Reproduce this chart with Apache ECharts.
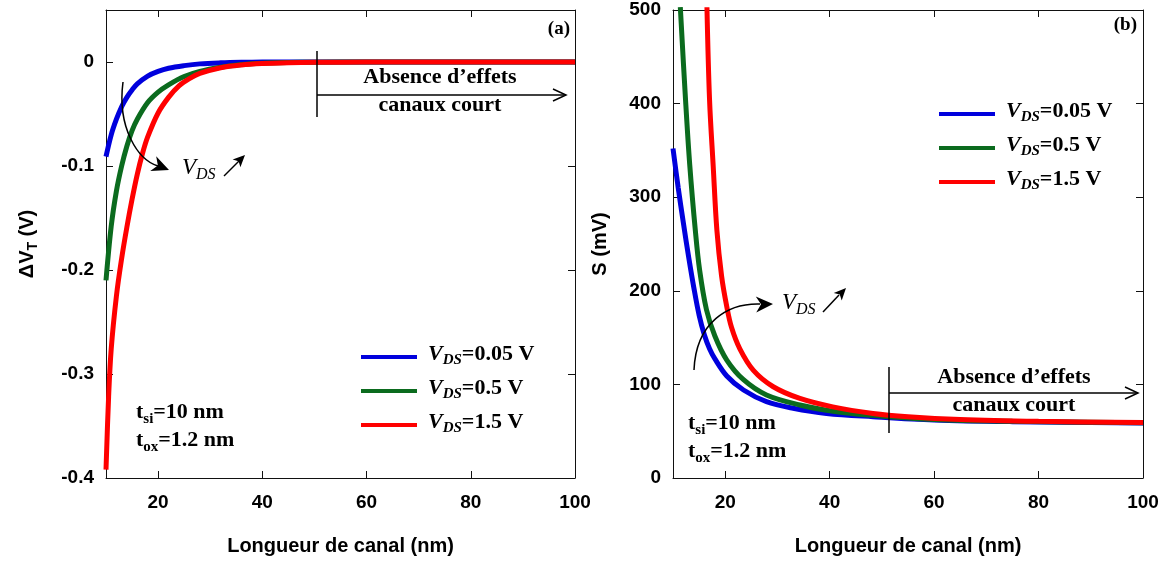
<!DOCTYPE html>
<html><head><meta charset="utf-8">
<script src="https://cdn.jsdelivr.net/npm/echarts@6/dist/echarts.min.js"></script>
<style>html,body{margin:0;padding:0;background:#fff}#c{width:1168px;height:565px}</style>
</head><body><div id="c"></div>
<script>
// ---------- data ----------
const seriesNames = ['VDS=0.05 V', 'VDS=0.5 V', 'VDS=1.5 V'];
const legendValues = ['0.05', '0.5', '1.5'];
const colors = ['#0000dd', '#0b6b1e', '#ff0000'];
const xTicks = [20, 40, 60, 80, 100];
const xTopTicks = [20, 40, 60, 80];
const dvtTicks = [-0.4, -0.3, -0.2, -0.1, 0];
const sTicks = [0, 100, 200, 300, 400, 500];

// Panel (a): threshold-voltage shift dVT (V) vs channel length L (nm)
const dvtBlue = [[10,-0.091],[11,-0.070],[12,-0.055],[13,-0.043],[14,-0.034],[15,-0.027],[16,-0.021],[18,-0.0135],[20,-0.009],[22,-0.006],[25,-0.0035],[28,-0.0018],[32,-0.0008],[36,-0.0003],[40,-0.0001],[50,0],[60,0],[70,0],[80,0],[90,0],[100,0]];
const dvtGreen = [[10,-0.21],[11,-0.158],[12,-0.124],[13,-0.100],[14,-0.081],[15,-0.066],[16,-0.055],[18,-0.039],[20,-0.029],[22,-0.022],[25,-0.014],[28,-0.009],[32,-0.005],[36,-0.0025],[40,-0.0012],[45,-0.0005],[50,-0.0002],[60,0],[70,0],[80,0],[90,0],[100,0]];
const dvtRed = [[10,-0.392],[10.5,-0.322],[11,-0.276],[12,-0.225],[13,-0.189],[14,-0.159],[15,-0.132],[16,-0.108],[17,-0.088],[18,-0.072],[20,-0.049],[22,-0.034],[24,-0.023],[26,-0.016],[28,-0.011],[32,-0.0055],[36,-0.0028],[40,-0.0015],[45,-0.0007],[50,-0.0003],[60,-0.0001],[70,0],[80,0],[90,0],[100,0]];

// Panel (b): subthreshold swing S (mV) vs channel length L (nm)
const sBlue = [[10,352],[11,310],[12,272],[13,236],[14,203],[15,174],[16,153],[17,138],[18,127.5],[20.3,109],[23.5,94],[27.9,81.5],[33,74.5],[39.4,69],[48.3,65.5],[60,62],[75,60.2],[100,58.8]];
const sGreen = [[11.4,503],[12.4,404],[13.2,335],[14.3,263],[15.1,222],[16.4,180],[18.0,152],[20.3,126],[23.5,105],[27.9,88.7],[34.3,78],[41.3,70.8],[48.3,67],[60,62.5],[75,60.5],[100,59]];
const sRed = [[16.5,503],[17.0,404],[17.7,333],[18.4,265],[19.3,216],[20.3,183],[21.2,161],[22.8,138],[25.4,115],[29.2,97.5],[34.3,85],[40.6,76],[48.3,69],[55,65.5],[65,62.5],[80,60.5],[100,59.2]];

// ---------- styles ----------
const SANS = '"Liberation Sans", Arial, sans-serif';
const SERIF = '"Liberation Serif", "Times New Roman", serif';
const axisLineStyle = { onZero: false, lineStyle: { color: '#111', width: 1 } };
const labelStyle = { fontFamily: SANS, fontWeight: 'bold', fontSize: 19, color: '#000' };
const nameStyle = { fontFamily: SANS, fontWeight: 'bold', fontSize: 20, color: '#000' };

function xAxes(grid) {
  return [
    { gridIndex: grid, type: 'value', min: 10, max: 100, position: 'bottom',
      axisLine: axisLineStyle, splitLine: { show: false },
      axisTick: { inside: true, length: 7, customValues: xTicks, lineStyle: { color: '#111' } },
      axisLabel: Object.assign({ customValues: xTicks, margin: 15 }, labelStyle),
      name: 'Longueur de canal (nm)', nameLocation: 'middle', nameGap: 58, nameTextStyle: nameStyle },
    { gridIndex: grid, type: 'value', min: 10, max: 100, position: 'top',
      axisLine: axisLineStyle, splitLine: { show: false },
      axisTick: { inside: true, length: 7, customValues: xTopTicks, lineStyle: { color: '#111' } },
      axisLabel: { show: false } }
  ];
}

const legendRich = {
  v: { fontFamily: SERIF, fontStyle: 'italic', fontWeight: 'bold', fontSize: 22, lineHeight: 28, color: '#000' },
  s: { fontFamily: SERIF, fontStyle: 'italic', fontWeight: 'bold', fontSize: 15, lineHeight: 16, verticalAlign: 'bottom', color: '#000' },
  t: { fontFamily: SERIF, fontWeight: 'bold', fontSize: 22, lineHeight: 28, color: '#000' }
};
function legendFmt(name) {
  const i = seriesNames.indexOf(name);
  return '{v|V}{s|DS}{t|=' + legendValues[i] + ' V}';
}
function makeLegend(left, top) {
  return { orient: 'vertical', left: left, top: top, icon: 'rect', itemWidth: 56, itemHeight: 4,
    itemGap: 9, selectedMode: false, data: seriesNames, formatter: legendFmt,
    textStyle: { rich: legendRich, padding: [0, 0, 6, 6] } };
}

function lineSeries(data, i, xi, yi) {
  return { name: seriesNames[i], type: 'line', data: data, xAxisIndex: xi, yAxisIndex: yi,
    showSymbol: false, smooth: 0.35, clip: false,
    lineStyle: { color: colors[i], width: 5 }, itemStyle: { color: colors[i] } };
}

// ---------- annotation helpers (pixel graphics) ----------
function arrowHead(tx, ty, dx, dy, len, half, notch) {
  const n = Math.hypot(dx, dy); dx /= n; dy /= n;
  const px = -dy, py = dx;
  const bx = tx - dx * len, by = ty - dy * len;
  return { type: 'polygon', shape: { points: [
    [tx, ty], [bx + px * half, by + py * half], [tx - dx * (len - notch), ty - dy * (len - notch)], [bx - px * half, by - py * half]
  ] }, style: { fill: '#000' }, z: 100 };
}
function seg(x1, y1, x2, y2, w) {
  return { type: 'line', shape: { x1, y1, x2, y2 }, style: { stroke: '#000', lineWidth: w || 1.5 }, z: 100 };
}
function chevron(tx, ty) {
  return { type: 'polyline', shape: { points: [[tx - 13, ty - 6], [tx, ty], [tx - 13, ty + 6]] }, style: { stroke: '#000', lineWidth: 1.5, fill: null }, z: 100 };
}
function txt(x, y, text, opts) {
  return { type: 'text', z: 100, style: Object.assign({ x, y, text, fill: '#000', fontFamily: SERIF, fontWeight: 'bold', fontSize: 22, align: 'center', verticalAlign: 'middle' }, opts || {}) };
}
const annRich = {
  t: { fontFamily: SERIF, fontWeight: 'bold', fontSize: 22, lineHeight: 30, color: '#000' },
  s: { fontFamily: SERIF, fontWeight: 'bold', fontSize: 15, lineHeight: 15, verticalAlign: 'bottom', color: '#000' },
  v: { fontFamily: SERIF, fontStyle: 'italic', fontSize: 23, lineHeight: 30, color: '#000' },
  d: { fontFamily: SERIF, fontStyle: 'italic', fontSize: 16, lineHeight: 16, verticalAlign: 'bottom', color: '#000' }
};
function richTxt(x, baseline, text) {
  return { type: 'text', z: 100, style: { x, y: baseline - 22, text, rich: annRich, align: 'left', verticalAlign: 'top' } };
}

const graphics = [
  // panel (a)
  txt(570, 29, '(a)', { align: 'right', fontSize: 19 }),
  seg(317, 51, 317, 117),
  seg(317, 95, 566, 95),
  chevron(566, 95),
  txt(440, 77, 'Absence d\u2019effets'),
  txt(440, 105, 'canaux court'),
  { type: 'bezierCurve', z: 100, shape: { x1: 123, y1: 82, cpx1: 117, cpy1: 128, cpx2: 138, cpy2: 160, x2: 158, y2: 166 }, style: { stroke: '#000', lineWidth: 1.5, fill: null } },
  arrowHead(169, 170, 1, 0.4, 17, 8, 5),
  richTxt(182, 175, '{v|V}{d|DS}'),
  seg(224, 176, 239, 161),
  arrowHead(245, 155, 1, -1, 12, 5.5, 3),
  richTxt(136, 419, '{t|t}{s|si}{t|=10 nm}'),
  richTxt(136, 447, '{t|t}{s|ox}{t|=1.2 nm}'),
  // panel (b)
  txt(1137, 25, '(b)', { align: 'right', fontSize: 19 }),
  seg(889, 367, 889, 433),
  seg(889, 393, 1138, 393),
  chevron(1138, 393),
  txt(1014, 377, 'Absence d\u2019effets'),
  txt(1014, 405, 'canaux court'),
  { type: 'bezierCurve', z: 100, shape: { x1: 694, y1: 370, cpx1: 696, cpy1: 322, cpx2: 728, cpy2: 303, x2: 760, y2: 304 }, style: { stroke: '#000', lineWidth: 1.5, fill: null } },
  arrowHead(773, 304, 1, -0.03, 17, 8, 5),
  richTxt(782, 310, '{v|V}{d|DS}'),
  seg(823, 312, 839, 295),
  arrowHead(846, 288, 1, -1.05, 12, 5.5, 3),
  richTxt(688, 430, '{t|t}{s|si}{t|=10 nm}'),
  richTxt(688, 458, '{t|t}{s|ox}{t|=1.2 nm}')
];

const chart = echarts.init(document.getElementById('c'), null, { renderer: 'canvas' });
chart.setOption({
  animation: false,
  backgroundColor: '#fff',
  grid: [
    { left: 106, top: 10, width: 469, height: 468 },
    { left: 673, top: 10, width: 470, height: 468 }
  ],
  xAxis: xAxes(0).concat(xAxes(1)),
  yAxis: [
    { gridIndex: 0, type: 'value', min: -0.4, max: 0.05, position: 'left',
      axisLine: axisLineStyle, splitLine: { show: false },
      axisTick: { inside: true, length: 7, customValues: dvtTicks, lineStyle: { color: '#111' } },
      axisLabel: Object.assign({ customValues: dvtTicks, margin: 12, formatter: v => (Math.abs(v) < 1e-9 ? '0' : String(+v.toFixed(1))) }, labelStyle),
      name: '{a|\u0394V}{b|T}{a| (V)}', nameLocation: 'middle', nameGap: 66,
      nameTextStyle: { rich: {
        a: { fontFamily: SANS, fontWeight: 'bold', fontSize: 20, lineHeight: 26, color: '#000' },
        b: { fontFamily: SANS, fontWeight: 'bold', fontSize: 14, lineHeight: 14, verticalAlign: 'bottom', color: '#000' } } } },
    { gridIndex: 0, type: 'value', min: -0.4, max: 0.05, position: 'right',
      axisLine: axisLineStyle, splitLine: { show: false },
      axisTick: { inside: true, length: 7, customValues: dvtTicks.slice(1), lineStyle: { color: '#111' } },
      axisLabel: { show: false } },
    { gridIndex: 1, type: 'value', min: 0, max: 500, interval: 100, position: 'left',
      axisLine: axisLineStyle, splitLine: { show: false },
      axisTick: { inside: true, length: 7, customValues: sTicks, lineStyle: { color: '#111' } },
      axisLabel: Object.assign({ customValues: sTicks, margin: 12 }, labelStyle),
      name: 'S (mV)', nameLocation: 'middle', nameGap: 63, nameTextStyle: nameStyle },
    { gridIndex: 1, type: 'value', min: 0, max: 500, interval: 100, position: 'right',
      axisLine: axisLineStyle, splitLine: { show: false },
      axisTick: { inside: true, length: 7, customValues: sTicks.slice(1, 5), lineStyle: { color: '#111' } },
      axisLabel: { show: false } }
  ],
  legend: [makeLegend(356, 338), makeLegend(934, 95)],
  series: [
    lineSeries(dvtBlue, 0, 0, 0), lineSeries(dvtGreen, 1, 0, 0), lineSeries(dvtRed, 2, 0, 0),
    lineSeries(sBlue, 0, 2, 2), lineSeries(sGreen, 1, 2, 2), lineSeries(sRed, 2, 2, 2)
  ],
  graphic: graphics
});
</script>
</body></html>
